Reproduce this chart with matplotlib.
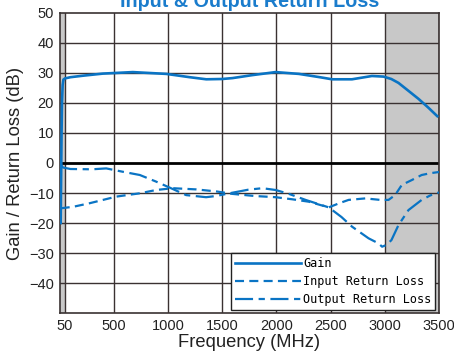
import matplotlib
matplotlib.use("Agg")
import matplotlib.pyplot as plt

# gain (dB) vs frequency (MHz)
gain_f = [10, 14, 18, 22, 28, 35, 50, 100, 216, 400, 675, 984, 1200, 1353, 1500, 1595,
          1779, 1993, 2207, 2400, 2514, 2697, 2881, 2988, 3060, 3126, 3220, 3310, 3400, 3484]
gain_db = [-20, -5, 10, 20, 26, 27.8, 28.2, 28.6, 29.1, 29.8, 30.3, 29.7, 28.6, 27.9, 28.0, 28.3,
           29.3, 30.3, 29.7, 28.6, 27.9, 27.9, 29.0, 28.8, 28.0, 26.7, 24.0, 21.4, 18.5, 15.6]

# input return loss (dB)
irl_f = [10, 125, 278, 523, 740, 890, 1044, 1260, 1450, 1595, 1800, 1993, 2147, 2299, 2483,
         2580, 2666, 2820, 2958, 3034, 3095, 3157, 3248, 3340, 3420, 3500]
irl_db = [-15.1, -14.6, -13.4, -11.2, -10.1, -9.0, -8.4, -8.8, -9.5, -10.3, -11.0, -11.4, -12.1,
          -12.9, -14.8, -13.4, -12.3, -11.8, -12.3, -12.3, -10.7, -7.3, -5.7, -4.0, -3.4, -3.0]

# output return loss (dB)
orl_f = [10, 30, 100, 300, 430, 580, 740, 890, 1015, 1167, 1351, 1443, 1595, 1740, 1871, 1993,
         2116, 2269, 2483, 2600, 2697, 2850, 2942, 2975, 3016, 3061, 3126, 3218, 3340, 3420, 3500]
orl_db = [-0.5, -1.5, -2.0, -2.1, -1.8, -2.9, -4.0, -6.2, -8.2, -10.7, -11.4, -11.0, -9.9, -8.9,
          -8.4, -9.0, -10.3, -12.3, -14.8, -18.0, -21.2, -25.1, -26.8, -27.9, -27.3, -25.7,
          -20.7, -15.7, -12.3, -10.8, -9.8]

xticks = [50, 500, 1000, 1500, 2000, 2500, 3000, 3500]
yticks = [-40, -30, -20, -10, 0, 10, 20, 30, 40, 50]

blue = "#0a74c4"
gridc = "#3a3232"

plt.rcParams['lines.scale_dashes'] = False

fig = plt.figure(figsize=(4.54, 3.54), dpi=100)
ax = fig.add_axes([0.1313, 0.1158, 0.8357, 0.8475])

ax.axvspan(0, 50, color="#c8c8c8", zorder=0, lw=0)
ax.axvspan(3000, 3500, color="#c8c8c8", zorder=0, lw=0)
for x in xticks:
    ax.axvline(x, color=gridc, lw=1.0, zorder=1)
for y in yticks[:-1]:
    if y == 0:
        ax.axhline(y, color="black", lw=2.0, zorder=1)
    else:
        ax.axhline(y, color=gridc, lw=1.0, zorder=1)

ax.plot(gain_f, gain_db, color=blue, lw=1.9, label="Gain", zorder=3)
ax.plot(irl_f, irl_db, color=blue, lw=1.6, dashes=(6.5, 3.8), label="Input Return Loss", zorder=3)
ax.plot(orl_f, orl_db, color=blue, lw=1.6, dashes=(13, 4, 4.5, 4), label="Output Return Loss", zorder=3)

ax.set_xlim(0, 3500)
ax.set_ylim(-50, 50)
ax.set_xticks(xticks)
ax.set_yticks(yticks)
ax.set_yticklabels([str(v).replace("-", "\u2212") for v in yticks])
ax.tick_params(length=0, pad=4, labelsize=10.5, labelcolor="#222222")
for lab in ax.get_xticklabels() + ax.get_yticklabels():
    lab.set_family("Liberation Sans")
for s in ax.spines.values():
    s.set_color(gridc)
    s.set_linewidth(1.2)

ax.set_xlabel("Frequency (MHz)", family="Liberation Sans", fontsize=13.2, color="#222222", labelpad=1)
ax.set_ylabel("Gain / Return Loss (dB)", family="Liberation Sans", fontsize=13.2, color="#222222", labelpad=4)

leg = ax.legend(loc="lower right", bbox_to_anchor=(0.989, 0.01), borderaxespad=0,
                prop={"family": "DejaVu Sans Mono", "size": 8.5}, handlelength=5.6,
                handletextpad=0.2, labelspacing=0.45, borderpad=0.3, fancybox=False,
                framealpha=1, edgecolor="#222222")
leg.get_frame().set_linewidth(1.0)

fig.text(0.549, 0.9816, "Input & Output Return Loss", ha="center", va="baseline",
         family="Liberation Sans", fontweight="bold", fontsize=14.2, color="#1a7ccc")

fig.savefig("out.png", dpi=100)
